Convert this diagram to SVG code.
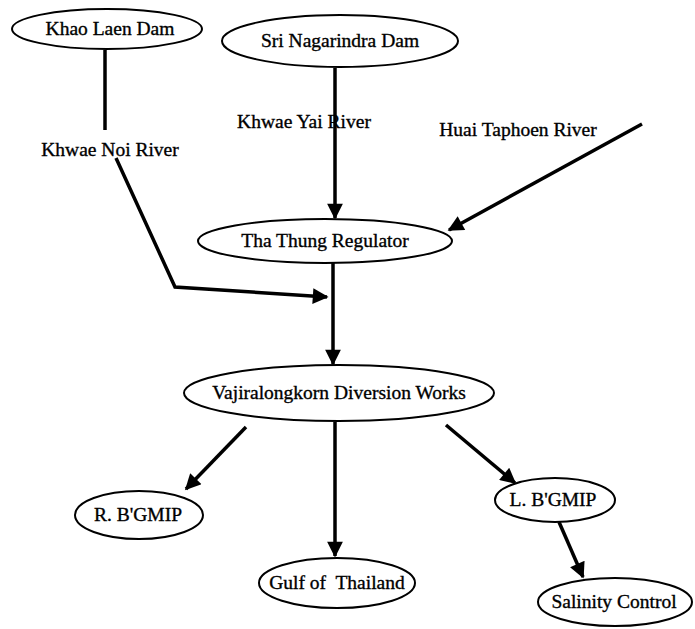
<svg xmlns="http://www.w3.org/2000/svg" width="695" height="629" viewBox="0 0 695 629">
<defs>
<marker id="ah" viewBox="0 0 10 10" refX="9" refY="5" markerWidth="5" markerHeight="4.5" orient="auto" markerUnits="strokeWidth">
<path d="M0,0 L10,5 L0,10 z" fill="#000"/>
</marker>
<style>
.n ellipse{fill:#fff;stroke:#000;stroke-width:2}
text{font-family:"Liberation Serif","Times New Roman",serif;font-size:19.5px;fill:#000;stroke:#000;stroke-width:0.35;text-anchor:middle}
.c{fill:none;stroke:#000;stroke-width:3.5}
.ca{fill:none;stroke:#000;stroke-width:3.5;marker-end:url(#ah)}
</style>
</defs>
<rect width="695" height="629" fill="#fff"/>
<g id="connectors">
<line class="c" x1="105" y1="50" x2="105" y2="130"/>
<polyline class="ca" points="116,158 175,287 327,297"/>
<line class="ca" x1="335" y1="68" x2="335" y2="218"/>
<line class="ca" x1="642" y1="124" x2="449" y2="230"/>
<line class="ca" x1="333" y1="263" x2="333" y2="364"/>
<line class="ca" x1="246" y1="427" x2="186" y2="489"/>
<line class="ca" x1="335" y1="422" x2="335" y2="556"/>
<line class="ca" x1="446" y1="425" x2="515" y2="483"/>
<line class="ca" x1="559" y1="522" x2="583" y2="577"/>
</g>
<g id="khao-laen-dam" class="n"><ellipse cx="107" cy="29" rx="95" ry="20"/><text x="110" y="35">Khao Laen Dam</text></g>
<g id="sri-nagarindra-dam" class="n"><ellipse cx="340" cy="41" rx="118" ry="26"/><text x="340" y="47">Sri Nagarindra Dam</text></g>
<g id="khwae-noi-label"><text x="110" y="156">Khwae Noi River</text></g>
<g id="khwae-yai-label"><text x="304" y="128">Khwae Yai River</text></g>
<g id="huai-taphoen-label"><text x="518" y="136">Huai Taphoen River</text></g>
<g id="tha-thung-regulator" class="n"><ellipse cx="325" cy="241" rx="127" ry="22"/><text x="325" y="247">Tha Thung Regulator</text></g>
<g id="vajiralongkorn" class="n"><ellipse cx="339" cy="393" rx="155" ry="28"/><text x="339" y="399">Vajiralongkorn Diversion Works</text></g>
<g id="rb-gmip" class="n"><ellipse cx="139" cy="515" rx="64" ry="24"/><text x="138" y="521">R. B'GMIP</text></g>
<g id="gulf-of-thailand" class="n"><ellipse cx="337" cy="583" rx="78" ry="25"/><text x="337" y="589">Gulf of&#160; Thailand</text></g>
<g id="lb-gmip" class="n"><ellipse cx="555" cy="500" rx="60" ry="22"/><text x="553" y="506">L. B'GMIP</text></g>
<g id="salinity-control" class="n"><ellipse cx="615" cy="602" rx="77" ry="24"/><text x="614" y="608">Salinity Control</text></g>
</svg>
